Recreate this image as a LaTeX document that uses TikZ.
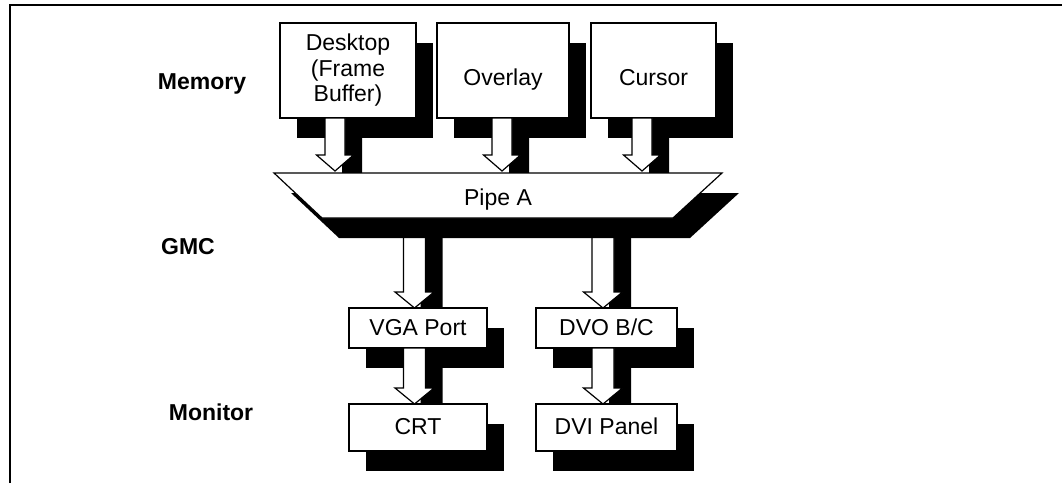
\documentclass[tikz,border=0pt]{standalone}
\usepackage{fontspec}
\setmainfont{Liberation Sans}
\usetikzlibrary{calc,shadows}
\pgfdeclarelayer{topbox}
\pgfdeclarelayer{toparr}
\pgfdeclarelayer{arrA}
\pgfdeclarelayer{pipel}
\pgfdeclarelayer{midbox}
\pgfdeclarelayer{arrB}
\pgfsetlayers{topbox,toparr,arrA,pipel,midbox,arrB,main}
% #1 shaft half width, #2 head half width, #3 head length, #4 start, #5 end (y only)
\newcommand\arrowshape[5]{let \p1=#4, \p2=#5 in (\x1-#1,\y1) -- (\x1+#1,\y1) -- (\x1+#1,\y2+#3) -- (\x1+#2,\y2+#3) -- (\x1,\y2) -- (\x1-#2,\y2+#3) -- (\x1-#1,\y2+#3) -- cycle}
\newcommand\blockarrow[4]{%
  \fill[black,transform canvas={xshift=17pt,yshift=-20pt}] \arrowshape{#1}{#2}{16pt}{#3}{#4};
  \filldraw[fill=white,draw=black,line width=1.2pt] \arrowshape{#1}{#2}{16pt}{#3}{#4};}
\begin{document}
\begin{tikzpicture}[x=1pt,y=-1pt,
  shd/.style={drop shadow={shadow xshift=17pt,shadow yshift=-20pt,opacity=1,fill=black}},
  txt/.style={font=\fontsize{23}{25.5}\selectfont},
  blk/.style={draw,line width=1.2pt,fill=white,inner sep=0pt,outer sep=0pt,shd,txt},
  topblk/.style={blk,minimum height=95pt,text height=29pt,text depth=0pt},
  lowblk/.style={blk,text height=17pt,text depth=3pt},
  lbl/.style={font=\bfseries\fontsize{23}{26}\selectfont,anchor=base,inner sep=0pt}]
\useasboundingbox (0,0) rectangle (1062,483);
\draw[line width=2.5pt] (10,483) -- (10,5) -- (1062,5);

\node[lbl] (mem) at (202,89) {Memory};
\node[lbl] (gmc) at (188,254) {GMC};
\node[lbl] (mon) at (211,420) {Monitor};

\begin{pgfonlayer}{topbox}
\node[blk,minimum width=136pt,minimum height=95pt,align=center] (desk) at (348,70.5) {Desktop\\(Frame\\Buffer)};
\node[topblk,minimum width=132pt] (ovl) at (503,70.5) {Overlay};
\node[topblk,minimum width=125pt] (cur) at (653.5,70.5) {Cursor};
\end{pgfonlayer}

\node[txt,minimum width=448pt,minimum height=45pt,inner sep=0pt,outer sep=0pt,text height=19pt,text depth=0pt] (pipe) at (498,195.5) {Pipe A};
\begin{pgfonlayer}{pipel}
\fill[black,transform canvas={xshift=17pt,yshift=-20pt}] (pipe.north west) -- (pipe.north east) -- ($(pipe.south east)+(-49,0)$) -- ($(pipe.south west)+(48,0)$) -- cycle;
\filldraw[fill=white,draw=black,line width=1.2pt] (pipe.north west) -- (pipe.north east) -- ($(pipe.south east)+(-49,0)$) -- ($(pipe.south west)+(48,0)$) -- cycle;
\end{pgfonlayer}

\begin{pgfonlayer}{midbox}
\node[lowblk,minimum width=138pt,minimum height=40pt] (vga) at (418,328) {VGA Port};
\node[lowblk,minimum width=141pt,minimum height=40pt] (dvo) at (606.5,328) {DVO B/C};
\end{pgfonlayer}
\node[lowblk,minimum width=138pt,minimum height=47pt] (crt) at (418,427.5) {CRT};
\node[lowblk,minimum width=141pt,minimum height=47pt] (dvi) at (606.5,427.5) {DVI Panel};

\begin{pgfonlayer}{toparr}
\blockarrow{10pt}{18.5pt}{($(desk.south)+(-13,0)$)}{($(pipe.north)+(0,-2)$)}
\blockarrow{10pt}{18.5pt}{($(ovl.south)+(-1,0)$)}{($(pipe.north)+(0,-2)$)}
\blockarrow{10pt}{18.5pt}{($(cur.south)+(-11.5,0)$)}{($(pipe.north)+(0,-2)$)}
\end{pgfonlayer}
\begin{pgfonlayer}{arrA}
\blockarrow{11pt}{19.5pt}{($(vga.north |- pipe.south)+(-3.5,0)$)}{(vga.north)}
\blockarrow{11pt}{19.5pt}{($(dvo.north |- pipe.south)+(-3.5,0)$)}{(dvo.north)}
\end{pgfonlayer}
\begin{pgfonlayer}{arrB}
\blockarrow{11pt}{19.5pt}{($(vga.south)+(-3.5,0)$)}{(crt.north)}
\blockarrow{11pt}{19.5pt}{($(dvo.south)+(-3.5,0)$)}{(dvi.north)}
\end{pgfonlayer}
\end{tikzpicture}
\end{document}
